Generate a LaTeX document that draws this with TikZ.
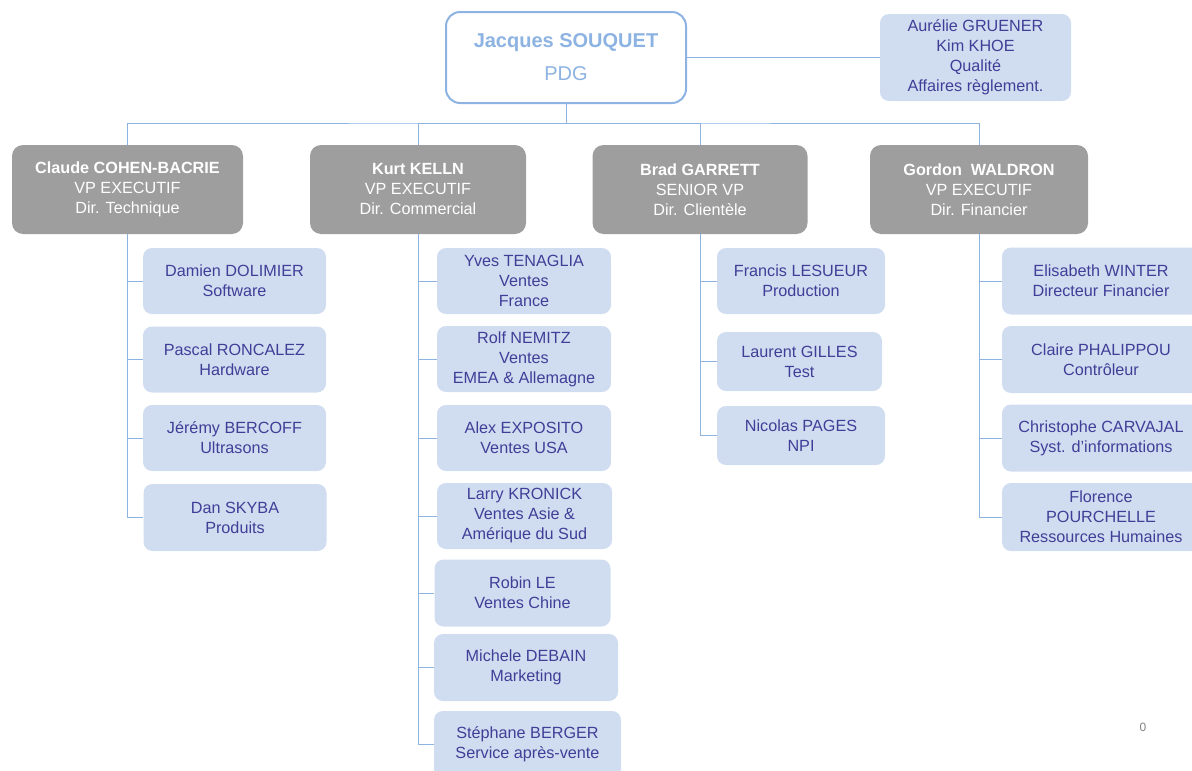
\documentclass[tikz,border=0pt]{standalone}
\usepackage{fontspec}
\setmainfont{Liberation Sans}
\definecolor{lineblue}{HTML}{8DB3E2}
\definecolor{boxblue}{HTML}{D0DDF0}
\definecolor{txtblue}{HTML}{3F3F98}
\definecolor{boxgray}{HTML}{9E9E9E}
\begin{document}
\begin{tikzpicture}[x=1pt,y=-1pt,
  conn/.style={draw=lineblue,line width=1pt},
  child/.style={rectangle,rounded corners=9pt,fill=boxblue,text=txtblue,align=center,inner sep=0pt,font=\fontsize{16.2}{20}\selectfont},
  vp/.style={rectangle,rounded corners=11pt,fill=boxgray,text=white,align=center,inner sep=0pt,font=\fontsize{16.2}{20}\selectfont,minimum height=89pt},
  pdgbox/.style={rectangle,rounded corners=14pt,draw=lineblue,line width=2pt,fill=white,text=lineblue,align=center,inner sep=0pt,minimum width=240pt,minimum height=91pt,font=\fontsize{20}{33}\selectfont}
]
\useasboundingbox (0,0) rectangle (1192,771);
% top
\node[pdgbox] (pdg) at (566,57.5) {\textbf{Jacques SOUQUET}\\PDG};
\node[child,minimum width=191pt,minimum height=87pt] (qual) at (975.5,57.5) {Aurélie GRUENER\\Kim KHOE\\Qualité\\Affaires règlement.};
% VPs
\node[vp,minimum width=231pt] (claude) at (127.5,189.5) {\textbf{Claude COHEN-BACRIE}\\VP EXECUTIF\\Dir. Technique};
\node[vp,minimum width=216pt] (kurt) at (418,189.5) {\textbf{Kurt KELLN}\\VP EXECUTIF\\Dir. Commercial};
\node[vp,minimum width=215pt] (brad) at (700,189.5) {\textbf{Brad GARRETT}\\SENIOR VP\\Dir. Clientèle};
\node[vp,minimum width=218pt] (gordon) at (979,189.5) {\textbf{Gordon\ \ WALDRON}\\VP EXECUTIF\\Dir. Financier};
% Claude children
\node[child,minimum width=183pt,minimum height=66pt] (damien) at (234.5,281) {Damien DOLIMIER\\Software};
\node[child,minimum width=183pt,minimum height=66pt] (pascal) at (234.5,359.5) {Pascal RONCALEZ\\Hardware};
\node[child,minimum width=183pt,minimum height=66pt] (jeremy) at (234.5,438) {Jérémy BERCOFF\\Ultrasons};
\node[child,minimum width=183pt,minimum height=67pt] (dan) at (235,517.5) {Dan SKYBA\\Produits};
% Kurt children
\node[child,minimum width=174pt,minimum height=66pt] (yves) at (524,281) {Yves TENAGLIA\\Ventes\\France};
\node[child,minimum width=174pt,minimum height=66pt] (rolf) at (524,359) {Rolf NEMITZ\\Ventes\\EMEA \& Allemagne};
\node[child,minimum width=174pt,minimum height=66pt] (alex) at (524,438) {Alex EXPOSITO\\Ventes USA};
\node[child,minimum width=175pt,minimum height=66pt] (larry) at (524.5,516) {Larry KRONICK\\Ventes Asie \&\\Amérique du Sud};
\node[child,minimum width=176pt,minimum height=67pt] (robin) at (522.5,593) {Robin LE\\Ventes Chine};
\node[child,minimum width=184pt,minimum height=67pt] (michele) at (526,667.5) {Michele DEBAIN\\Marketing};
\node[child,minimum width=187pt,minimum height=67pt] (stephane) at (527.5,744.5) {Stéphane BERGER\\Service après-vente};
% Brad children
\node[child,minimum width=168pt,minimum height=66pt] (francis) at (801,281) {Francis LESUEUR\\Production};
\node[child,minimum width=165pt,minimum height=59pt] (laurent) at (799.5,361.5) {Laurent GILLES\\Test};
\node[child,minimum width=168pt,minimum height=59pt] (nicolas) at (801,435.5) {Nicolas PAGES\\NPI};
% Gordon children
\node[child,minimum width=198pt,minimum height=67pt] (elisabeth) at (1101,281) {Elisabeth WINTER\\Directeur Financier};
\node[child,minimum width=198pt,minimum height=67pt] (claire) at (1101,359.5) {Claire PHALIPPOU\\Contrôleur};
\node[child,minimum width=198pt,minimum height=67pt] (christophe) at (1101,438) {Christophe CARVAJAL\\Syst. d’informations};
\node[child,minimum width=198pt,minimum height=68pt] (florence) at (1101,517) {Florence\\POURCHELLE\\Ressources Humaines};
\node[text=gray,font=\fontsize{12}{14}\selectfont] (pagenum) at (1143,727) {0};
% connectors
\coordinate (bus) at (566,123);
\draw[conn] (pdg.east) -- (qual.west);
\draw[conn] (pdg.south) -- (bus);
\draw[conn] (claude.north) |- (bus) -| (gordon.north);
\draw[conn] (kurt.north) |- (bus);
\draw[conn] (brad.north) |- (bus);
\foreach \c in {damien,pascal,jeremy,dan}{\draw[conn] (claude.south) |- (\c.west);}
\foreach \c in {yves,rolf,alex,larry,robin,michele,stephane}{\draw[conn] (kurt.south) |- (\c.west);}
\foreach \c in {francis,laurent,nicolas}{\draw[conn] (brad.south) |- (\c.west);}
\foreach \c in {elisabeth,claire,christophe,florence}{\draw[conn] (gordon.south) |- (\c.west);}
\end{tikzpicture}
\end{document}
